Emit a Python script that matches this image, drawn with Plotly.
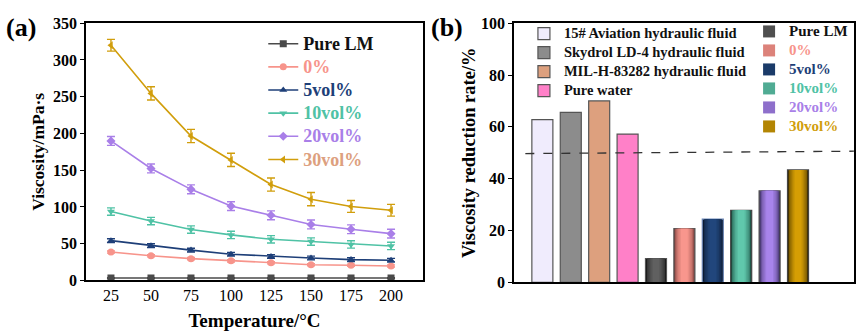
import plotly.graph_objects as go

# ---------------- Data: panel (a) ----------------
temperatures = [25, 50, 75, 100, 125, 150, 175, 200]
series_names = ["Pure LM", "0%", "5vol%", "10vol%", "20vol%", "30vol%"]
visc_pure_lm = [3.3, 3.3, 3.3, 3.3, 3.3, 3.3, 3.3, 3.3]
visc_0 = [38.7, 33.6, 29.7, 26.7, 24.1, 21.5, 20.7, 19.8]
visc_5 = [54.2, 47.4, 41.3, 35.7, 32.7, 30.6, 28.4, 27.6]
visc_10 = [93.8, 80.9, 69.3, 62.0, 56.0, 53.0, 49.0, 47.0]
visc_20 = [189.8, 152.4, 124.0, 101.2, 88.7, 76.2, 69.7, 63.7]
visc_30 = [320.0, 254.5, 196.5, 164.0, 130.5, 110.6, 100.7, 95.5]
err_pure_lm = [0.5] * 8
err_0 = [1.5] * 8
err_5 = [2.5] * 8
err_10 = [5, 5, 5, 5, 5, 5, 5, 5]
err_20 = [6, 6, 6, 6, 6, 6, 6, 6]
err_30 = [8, 9, 9, 9, 9, 9, 8, 8]

# ---------------- Data: panel (b) ----------------
fluid_names = ["15# Aviation hydraulic fluid", "Skydrol LD-4 hydraulic fluid",
               "MIL-H-83282 hydraulic fluid", "Pure water"]
fluid_rates = [62.8, 65.6, 70.0, 57.2]
lm_names = ["Pure LM", "0%", "5vol%", "10vol%", "20vol%", "30vol%"]
lm_rates = [9.2, 20.7, 24.4, 27.8, 35.3, 43.4]
threshold_x = [-0.6, 10.97]
threshold_y = [49.7, 50.6]

# ---------------- Styles ----------------
FONT = "Liberation Serif"
line_colors = ["#4a4a4a", "#F7948B", "#1E3F78", "#4FC2A5", "#A97FE8", "#D19E0C"]
legend_text_colors = ["#111111", "#F7948B", "#1E3F78", "#4FC2A5", "#A97FE8", "#DDA07E"]
symbols = ["square", "circle", "triangle-up", "triangle-down", "diamond", "triangle-left"]

fluid_colors = ["#F0ECFD", "#8C8C8C", "#DDA07E", "#FF80C8"]
lm_center = ["#606060", "#F8968D", "#21467C", "#60C8AC", "#A884EC", "#D59E04"]
lm_edge = ["#161616", "#7A3E3A", "#081428", "#17483C", "#35285A", "#3E2E00"]
lm_outline = ["#555555", "#555555", "#6A85B5", "#444444", "#555555", "#444444"]
lm_text_colors = ["#111111", "#F7948B", "#1E3F78", "#4FC2A5", "#A97FE8", "#D19E0C"]


def legend_label(text, color, px):
    return f"<span style='font-size:{px}px;color:{color}'><b>{text}</b></span>"


fig = go.Figure()

visc = [visc_pure_lm, visc_0, visc_5, visc_10, visc_20, visc_30]
errs = [err_pure_lm, err_0, err_5, err_10, err_20, err_30]
for i, name in enumerate(series_names):
    fig.add_trace(go.Scatter(
        x=temperatures, y=visc[i], mode="lines+markers",
        name=legend_label(name, legend_text_colors[i], 18),
        line=dict(color=line_colors[i], width=1.6),
        marker=dict(symbol=symbols[i], size=7, color=line_colors[i]),
        error_y=dict(type="data", array=errs[i], color=line_colors[i],
                     thickness=1.4, width=4),
        xaxis="x", yaxis="y", legend="legend",
    ))


def mix(c1, c2, t):
    a = [int(c1[k:k + 2], 16) for k in (1, 3, 5)]
    b = [int(c2[k:k + 2], 16) for k in (1, 3, 5)]
    return "#%02x%02x%02x" % tuple(round(a[j] + (b[j] - a[j]) * t) for j in range(3))


positions = list(range(len(fluid_names) + len(lm_names)))

for i, name in enumerate(fluid_names):
    fig.add_trace(go.Bar(
        x=[positions[i]], y=[fluid_rates[i]], width=0.74,
        name=legend_label(name, "#111111", 14.5),
        marker=dict(color=fluid_colors[i], line=dict(color="#555555", width=1.2)),
        xaxis="x2", yaxis="y2", legend="legend2",
    ))

widths = [0.74, 0.64, 0.54, 0.44, 0.34, 0.24]
legend_layer = 3
for i, name in enumerate(lm_names):
    pos = positions[len(fluid_names) + i]
    for k, w in enumerate(widths):
        t = k / (len(widths) - 1)
        col = mix(lm_edge[i], lm_center[i], t ** 0.5)
        fig.add_trace(go.Bar(
            x=[pos], y=[lm_rates[i]], width=w,
            name=legend_label(name, lm_text_colors[i], 15),
            marker=dict(color=col,
                        line=dict(color=lm_outline[i] if k == 0 else col,
                                  width=1.2 if k == 0 else 0)),
            showlegend=(k == legend_layer), legendgroup=f"lm{i}",
            xaxis="x2", yaxis="y2", legend="legend3",
        ))

fig.add_trace(go.Scatter(
    x=threshold_x, y=threshold_y, mode="lines",
    line=dict(color="#333333", width=1.3, dash="dash"),
    showlegend=False, xaxis="x2", yaxis="y2",
))

axis_common = dict(showline=True, linecolor="black", linewidth=1.6, mirror=True,
                   showgrid=False, zeroline=False,
                   tickfont=dict(family=FONT, size=16, color="black"),
                   tickcolor="black", ticklen=4, tickwidth=1.4)

fig.update_layout(
    width=866, height=336,
    margin=dict(l=0, r=0, t=0, b=0),
    paper_bgcolor="white", plot_bgcolor="white",
    barmode="overlay",
    font=dict(family=FONT, color="black"),
    xaxis=dict(domain=[0.0993, 0.4885], range=[9.4, 220], anchor="y",
               tickvals=temperatures, ticks="",
               title=dict(text="<b>Temperature/°C</b>", font=dict(family=FONT, size=19), standoff=10),
               tickprefix="<b>", ticksuffix="</b>", **axis_common),
    yaxis=dict(domain=[0.1458, 0.9524], range=[0, 350], dtick=50, anchor="x",
               ticks="outside",
               title=dict(text="<b>Viscosity/mPa·s</b>", font=dict(family=FONT, size=17.5), standoff=4),
               tickprefix="<b>", ticksuffix="</b>", **axis_common),
    xaxis2=dict(domain=[0.5935, 0.9861], range=[-1, 10.97], anchor="y2",
                showticklabels=False, showline=True, linecolor="black", linewidth=1.6,
                mirror=True, showgrid=False, zeroline=False, ticks=""),
    yaxis2=dict(domain=[0.1399, 0.9524], range=[0, 100], dtick=20, anchor="x2",
                ticks="outside",
                title=dict(text="<b>Viscosity reduction rate/%</b>", font=dict(family=FONT, size=18.5), standoff=0),
                tickprefix="<b>", ticksuffix="</b>", **axis_common),
    legend=dict(x=0.304, y=0.94, xanchor="left", yanchor="top",
                bgcolor="rgba(0,0,0,0)", font=dict(family=FONT, size=15.5),
                itemwidth=30, tracegroupgap=0),
    legend2=dict(x=0.605, y=0.965, xanchor="left", yanchor="top",
                 bgcolor="rgba(0,0,0,0)", font=dict(family=FONT, size=11.5),
                 itemwidth=30, tracegroupgap=0),
    legend3=dict(x=0.865, y=0.972, xanchor="left", yanchor="top",
                 bgcolor="rgba(0,0,0,0)", font=dict(family=FONT, size=11.5),
                 itemwidth=30, tracegroupgap=0),
    annotations=[
        dict(text="<b>(a)</b>", x=0.005, y=0.99, xref="paper", yref="paper",
             xanchor="left", yanchor="top", showarrow=False,
             font=dict(family=FONT, size=26, color="black")),
        dict(text="<b>(b)</b>", x=0.495, y=0.99, xref="paper", yref="paper",
             xanchor="left", yanchor="top", showarrow=False,
             font=dict(family=FONT, size=26, color="black")),
    ],
)

fig.write_html("out.html")
